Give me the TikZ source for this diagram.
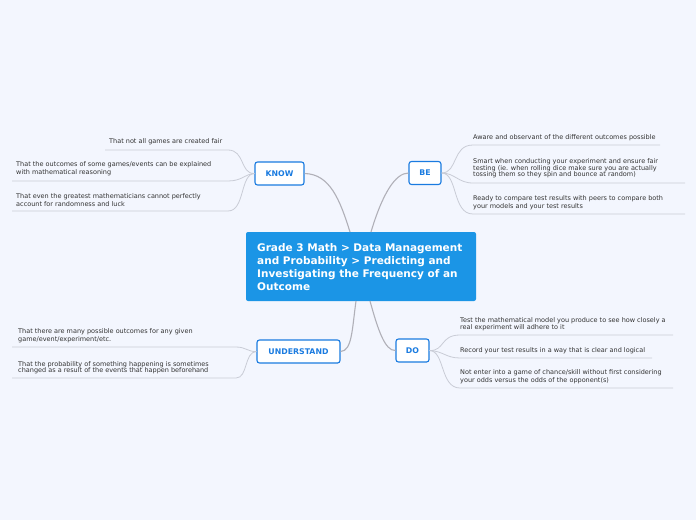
\documentclass[tikz,border=0pt]{standalone}
\usepackage{fontspec}
\setmainfont{DejaVu Sans}
\definecolor{bg}{HTML}{F3F6FE}
\definecolor{mainblue}{HTML}{1B95E6}
\definecolor{topicblue}{HTML}{1A7BE0}
\definecolor{conn}{HTML}{B0B0B8}
\definecolor{leafline}{HTML}{C9CCD6}
\definecolor{leaftext}{HTML}{333333}
\begin{document}
\begin{tikzpicture}[x=1pt,y=-1pt,
  topic/.style={draw=topicblue,line width=1.1pt,fill=white,rounded corners=2.5pt,text=topicblue,font=\fontsize{7.8}{9}\selectfont\bfseries,inner sep=0pt,minimum height=23pt},
  leaf/.style={anchor=west,align=left,text=leaftext,font=\fontsize{6.5}{8}\selectfont,inner sep=0pt},
  mainconn/.style={draw=conn,line width=1.1pt},
  leafconn/.style={draw=leafline,line width=0.8pt}]
\fill[bg] (0,0) rectangle (696,520);
\useasboundingbox (0,0) rectangle (696,520);
% central
\node[fill=mainblue,rounded corners=2pt,minimum width=230pt,minimum height=69pt,inner sep=0pt] (c) at (361,266.5) {};
\node[anchor=west,align=left,text=white,font=\fontsize{10.5}{13}\selectfont\bfseries,inner sep=0pt] (ct) at (257,267.5) {Grade 3 Math > Data Management\\and Probability > Predicting and\\Investigating the Frequency of an\\Outcome};
% topics
\node[topic,minimum width=49pt] (know) at (279.5,173.5) {KNOW};
\node[topic,minimum width=32pt] (be) at (425,173) {BE};
\node[topic,minimum width=83pt] (und) at (298.5,351.5) {UNDERSTAND};
\node[topic,minimum width=33pt] (do) at (412.5,350.5) {DO};
% main connectors
\coordinate (ck) at (350,232); \coordinate (cb) at (371,232);
\coordinate (cu) at (356,301); \coordinate (cd) at (370,301);
\draw[mainconn] (ck) .. controls (340,200) and (330,174) .. (know.east);
\draw[mainconn] (cb) .. controls (382,195) and (395,173) .. (be.west);
\draw[mainconn] (cu) .. controls (352,330) and (352,351) .. (und.east);
\draw[mainconn] (cd) .. controls (378,330) and (385,351) .. (do.west);
% KNOW leaves
\node[leaf] (k1) at (109,142) {That not all games are created fair};
\node[leaf] (k2) at (16,169) {That the outcomes of some games/events can be explained\\with mathematical reasoning};
\node[leaf] (k3) at (16,200) {That even the greatest mathematicians cannot perfectly\\account for randomness and luck};
\coordinate (k1a) at (105,150); \coordinate (k1b) at (228,150);
\coordinate (k2a) at (12,181); \coordinate (k2b) at (228,181);
\coordinate (k3a) at (12,211); \coordinate (k3b) at (228,211);
\draw[leafconn] (k1a) -- (k1b) .. controls (245,150) and (240,174) .. (know.west);
\draw[leafconn] (k2a) -- (k2b) .. controls (242,181) and (245,174) .. (know.west);
\draw[leafconn] (k3a) -- (k3b) .. controls (245,211) and (240,174) .. (know.west);
% BE leaves
\node[leaf] (b1) at (473,138) {Aware and observant of the different outcomes possible};
\node[leaf] (b2) at (473,168.5) {Smart when conducting your experiment and ensure fair\\[-1.5pt]testing (ie. when rolling dice make sure you are actually\\[-1.5pt]tossing them so they spin and bounce at random)};
\node[leaf] (b3) at (473,203) {Ready to compare test results with peers to compare both\\your models and your test results};
\coordinate (b1a) at (473,145); \coordinate (b1b) at (660,145);
\coordinate (b2a) at (473,183); \coordinate (b2b) at (685,183);
\coordinate (b3a) at (473,214); \coordinate (b3b) at (685,214);
\draw[leafconn] (be.east) .. controls (458,173) and (452,145) .. (b1a) -- (b1b);
\draw[leafconn] (be.east) .. controls (455,173) and (458,183) .. (b2a) -- (b2b);
\draw[leafconn] (be.east) .. controls (458,173) and (452,214) .. (b3a) -- (b3b);
% DO leaves
\node[leaf] (d1) at (460,324) {Test the mathematical model you produce to see how closely a\\[-1.5pt]real experiment will adhere to it};
\node[leaf] (d2) at (460,351) {Record your test results in a way that is clear and logical};
\node[leaf] (d3) at (460,377) {Not enter into a game of chance/skill without first considering\\your odds versus the odds of the opponent(s)};
\coordinate (d1a) at (460,335); \coordinate (d1b) at (673,335);
\coordinate (d2a) at (460,358); \coordinate (d2b) at (652,358);
\coordinate (d3a) at (460,388); \coordinate (d3b) at (673,388);
\draw[leafconn] (do.east) .. controls (445,351) and (440,335) .. (d1a) -- (d1b);
\draw[leafconn] (do.east) .. controls (443,351) and (446,358) .. (d2a) -- (d2b);
\draw[leafconn] (do.east) .. controls (445,351) and (440,388) .. (d3a) -- (d3b);
% UNDERSTAND leaves
\node[leaf] (u1) at (18,336) {That there are many possible outcomes for any given\\game/event/experiment/etc.};
\node[leaf] (u2) at (18,367.5) {That the probability of something happening is sometimes\\[-1.5pt]changed as a result of the events that happen beforehand};
\coordinate (u1a) at (12,347); \coordinate (u1b) at (236,347);
\coordinate (u2a) at (12,378); \coordinate (u2b) at (236,378);
\draw[leafconn] (u1a) -- (u1b) .. controls (246,347) and (248,352) .. (und.west);
\draw[leafconn] (u2a) -- (u2b) .. controls (248,378) and (244,352) .. (und.west);
\end{tikzpicture}
\end{document}
